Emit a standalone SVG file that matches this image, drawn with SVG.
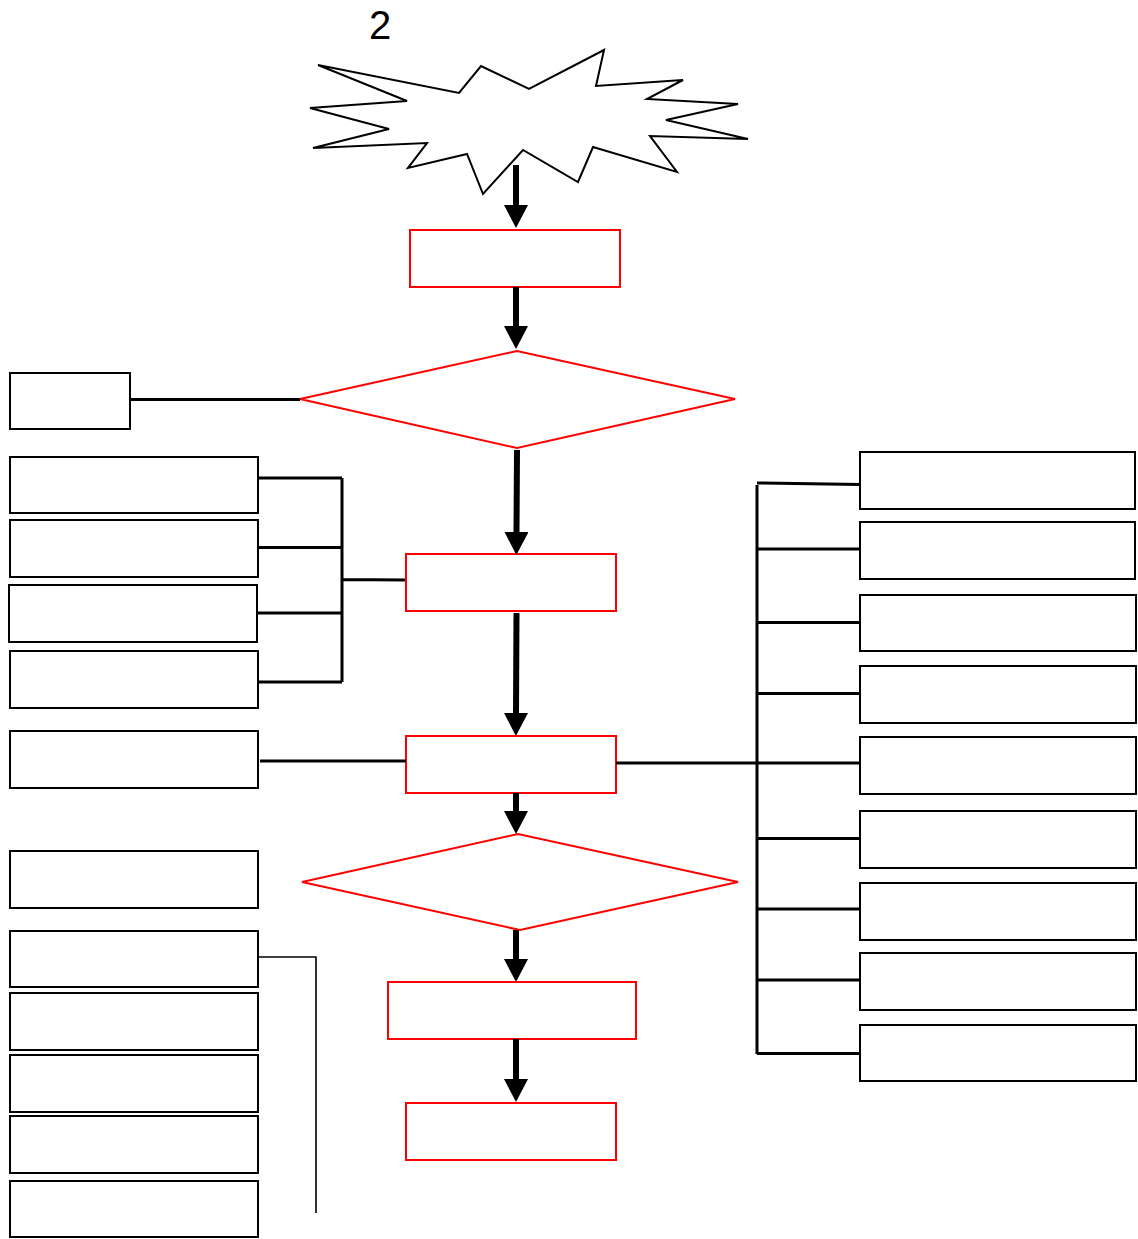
<svg xmlns="http://www.w3.org/2000/svg" width="1138" height="1239" viewBox="0 0 1138 1239">
<style>
.box{fill:#fff;stroke:#000;stroke-width:2}
.red{fill:#fff;stroke:#f00;stroke-width:2}
.ln{fill:none;stroke:#000;stroke-width:3}
.thin{fill:none;stroke:#000;stroke-width:1.6}
.arr{fill:none;stroke:#000;stroke-width:6;marker-end:url(#ah)}
.lbl{font-family:"Liberation Sans",Arial,sans-serif;font-size:40px;fill:#000}
</style>
<defs>
<marker id="ah" markerUnits="userSpaceOnUse" markerWidth="24" markerHeight="24" refX="0" refY="12" orient="auto" viewBox="0 0 24 24">
<path d="M0,0 L23,12 L0,24 Z" fill="#000"/>
</marker>
</defs>
<rect width="1138" height="1239" fill="#fff"/>
<text class="lbl" x="380" y="39" text-anchor="middle">2</text>

<g id="start">
<polygon fill="#fff" stroke="#000" stroke-width="2" points="318,65 407,101 310,108 389,129 313,148 427,143 408,168 467,154 483,194 523,150 578,182 593,147 677,172 650,136 748,139 666,120 738,104 647,99 683,80 596,86 604,50 529,89 481,66 459,93"/>
</g>

<g id="step1"><rect class="red" x="410" y="230" width="210" height="57"/></g>
<g id="decision1"><polygon class="red" points="300,399 517,351 735,399 517,448"/></g>
<g id="leftTop"><rect class="box" x="10" y="373" width="120" height="56"/></g>
<g id="step2"><rect class="red" x="406" y="554" width="210" height="57"/></g>
<g id="L1"><rect class="box" x="10" y="457" width="248" height="56"/></g>
<g id="L2"><rect class="box" x="10" y="520" width="248" height="57"/></g>
<g id="L3"><rect class="box" x="9" y="585" width="248" height="57"/></g>
<g id="L4"><rect class="box" x="10" y="651" width="248" height="57"/></g>
<g id="L5"><rect class="box" x="10" y="731" width="248" height="57"/></g>
<g id="step3"><rect class="red" x="406" y="736" width="210" height="57"/></g>
<g id="decision2"><polygon class="red" points="302,882 518,834 738,882 520,930"/></g>
<g id="step4"><rect class="red" x="388" y="982" width="248" height="57"/></g>
<g id="step5"><rect class="red" x="406" y="1103" width="210" height="57"/></g>

<g id="LA"><rect class="box" x="10" y="851" width="248" height="57"/></g>
<g id="LB"><rect class="box" x="10" y="931" width="248" height="56"/></g>
<g id="LC"><rect class="box" x="10" y="993" width="248" height="57"/></g>
<g id="LD"><rect class="box" x="10" y="1055" width="248" height="57"/></g>
<g id="LE"><rect class="box" x="10" y="1116" width="248" height="57"/></g>
<g id="LF"><rect class="box" x="10" y="1181" width="248" height="56"/></g>

<g id="R1"><rect class="box" x="860" y="452" width="275" height="57"/></g>
<g id="R2"><rect class="box" x="860" y="522" width="275" height="57"/></g>
<g id="R3"><rect class="box" x="860" y="595" width="276" height="56"/></g>
<g id="R4"><rect class="box" x="860" y="666" width="276" height="57"/></g>
<g id="R5"><rect class="box" x="860" y="737" width="276" height="57"/></g>
<g id="R6"><rect class="box" x="860" y="811" width="276" height="57"/></g>
<g id="R7"><rect class="box" x="860" y="883" width="276" height="57"/></g>
<g id="R8"><rect class="box" x="860" y="953" width="276" height="57"/></g>
<g id="R9"><rect class="box" x="860" y="1025" width="276" height="56"/></g>

<g id="connectors">
<line class="arr" x1="516" y1="165" x2="516" y2="205"/>
<line class="arr" x1="516" y1="287" x2="516" y2="326"/>
<line class="arr" x1="517" y1="450" x2="516.5" y2="532"/>
<line class="arr" x1="516.5" y1="613" x2="516" y2="713"/>
<line class="arr" x1="516" y1="793" x2="516" y2="811"/>
<line class="arr" x1="516" y1="930" x2="516" y2="959"/>
<line class="arr" x1="516" y1="1039" x2="516" y2="1079"/>

<line class="ln" x1="130" y1="399.5" x2="300" y2="399.5"/>
<path class="ln" d="M258,478 H342 M258,547.5 H342 M258,613 H342 M258,682 H342 M342,478 V682 M342,579.5 L405,580"/>
<line class="ln" x1="260" y1="761" x2="406" y2="761"/>
<line class="ln" x1="616" y1="763" x2="757" y2="763"/>
<path class="ln" d="M757,485 V1054 M757,483 L860,484.5 M757,549 H860 M757,622.5 H860 M757,693.5 H860 M757,763 H860 M757,838.5 H860 M757,909 H860 M757,980 H860 M757,1053.5 H860"/>
<path class="thin" d="M258,957 H316 V1213"/>
</g>
</svg>
